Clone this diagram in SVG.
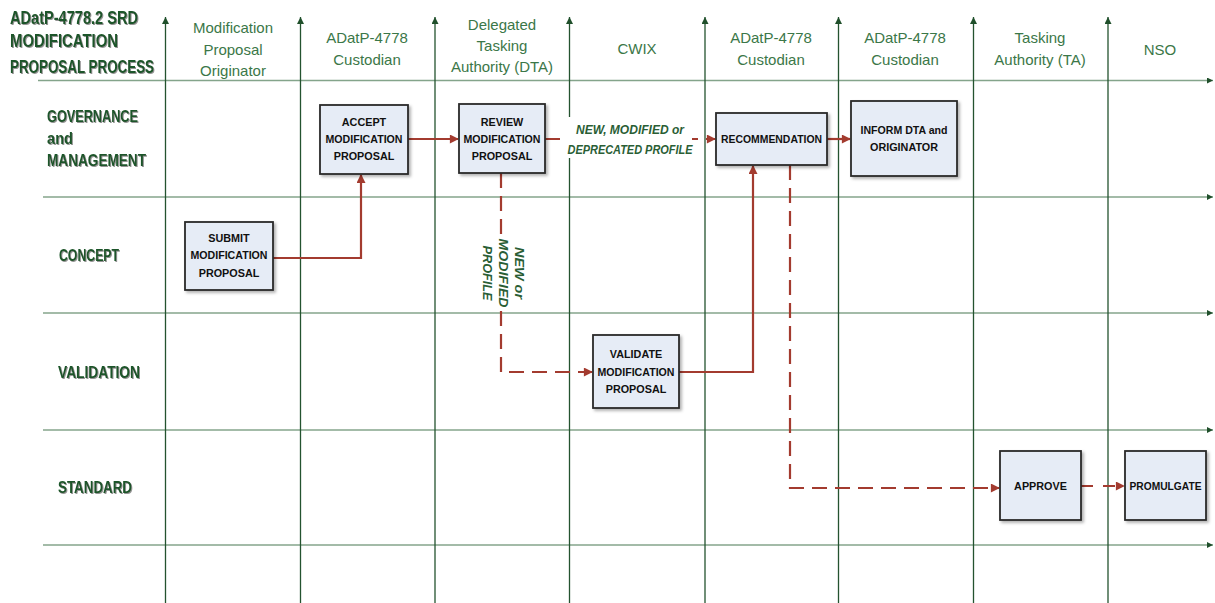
<svg xmlns="http://www.w3.org/2000/svg" width="1215" height="603" viewBox="0 0 1215 603">
<defs>
<style>
.vl{stroke:#24532f;stroke-width:1.3;fill:none}
.hl{stroke:#84a48b;stroke-width:1.6;fill:none}
.hdr{font-family:"Liberation Sans",Arial,sans-serif;font-size:15px;fill:#3b7748;text-anchor:middle}
.ttl{font-family:"Liberation Sans",Arial,sans-serif;font-weight:bold;font-size:17.5px;fill:#1d5529;filter:url(#sh)}
.row{font-family:"Liberation Sans",Arial,sans-serif;font-weight:bold;font-size:16.5px;fill:#1d5529;filter:url(#sh)}
.box rect{fill:#e6ecf6;stroke:#2a2a2a;stroke-width:1.8;filter:url(#bs)}
.box text{font-family:"Liberation Sans",Arial,sans-serif;font-weight:bold;font-size:10.8px;fill:#111;text-anchor:middle}
.c{stroke:#a33b2f;stroke-width:2.2;fill:none;marker-end:url(#ar)}
.d{stroke-dasharray:15 8}
.lbl{font-family:"Liberation Sans",Arial,sans-serif;font-weight:bold;font-style:italic;font-size:13px;fill:#2a5e35;text-anchor:middle}
</style>
<filter id="sh" x="-10%" y="-30%" width="120%" height="160%"><feDropShadow dx="1" dy="1" stdDeviation="0.6" flood-color="#666" flood-opacity="0.7"/></filter>
<filter id="bs" x="-10%" y="-10%" width="125%" height="125%"><feDropShadow dx="2" dy="2" stdDeviation="1.5" flood-color="#000" flood-opacity="0.3"/></filter>
<marker id="va" viewBox="0 0 10 10" refX="10" refY="5" markerWidth="12" markerHeight="7" markerUnits="userSpaceOnUse" orient="auto"><path d="M0,0 L10,5 L0,10 z" fill="#1f4f2a"/></marker>
<marker id="ha" viewBox="0 0 10 10" refX="10" refY="5" markerWidth="6" markerHeight="6" markerUnits="userSpaceOnUse" orient="auto"><path d="M0,0 L10,5 L0,10 z" fill="#1f4f2a"/></marker>
<marker id="ar" viewBox="0 0 10 10" refX="9" refY="5" markerWidth="11" markerHeight="9" markerUnits="userSpaceOnUse" orient="auto"><path d="M0,0 L10,5 L0,10 z" fill="#a33b2f"/></marker>
</defs>
<rect width="1215" height="603" fill="#fff"/>

<g id="grid">
<path class="hl" marker-end="url(#ha)" d="M38 80.5 H1213"/>
<path class="hl" marker-end="url(#ha)" d="M43 197 H1213"/>
<path class="hl" marker-end="url(#ha)" d="M43 313 H1213"/>
<path class="hl" marker-end="url(#ha)" d="M43 430 H1213"/>
<path class="hl" marker-end="url(#ha)" d="M43 545 H1213"/>
<path class="vl" marker-end="url(#va)" d="M165.5 603 V17"/>
<path class="vl" marker-end="url(#va)" d="M300.5 603 V17"/>
<path class="vl" marker-end="url(#va)" d="M435 603 V17"/>
<path class="vl" marker-end="url(#va)" d="M569.5 603 V17"/>
<path class="vl" marker-end="url(#va)" d="M705 603 V17"/>
<path class="vl" marker-end="url(#va)" d="M838.5 603 V17"/>
<path class="vl" marker-end="url(#va)" d="M973.5 603 V17"/>
<path class="vl" marker-end="url(#va)" d="M1108 603 V17"/>
</g>

<g id="title">
<text class="ttl" x="10" y="24" textLength="128" lengthAdjust="spacingAndGlyphs">ADatP-4778.2 SRD</text>
<text class="ttl" x="10" y="47" textLength="108" lengthAdjust="spacingAndGlyphs">MODIFICATION</text>
<text class="ttl" x="10" y="73" textLength="144" lengthAdjust="spacingAndGlyphs">PROPOSAL PROCESS</text>
</g>

<g id="headers">
<text class="hdr" x="233" y="33">Modification</text>
<text class="hdr" x="233" y="55">Proposal</text>
<text class="hdr" x="233" y="76">Originator</text>
<text class="hdr" x="367" y="43">ADatP-4778</text>
<text class="hdr" x="367" y="65">Custodian</text>
<text class="hdr" x="502" y="30">Delegated</text>
<text class="hdr" x="502" y="51">Tasking</text>
<text class="hdr" x="502" y="72">Authority (DTA)</text>
<text class="hdr" x="637" y="54">CWIX</text>
<text class="hdr" x="771" y="43">ADatP-4778</text>
<text class="hdr" x="771" y="65">Custodian</text>
<text class="hdr" x="905" y="43">ADatP-4778</text>
<text class="hdr" x="905" y="65">Custodian</text>
<text class="hdr" x="1040" y="43">Tasking</text>
<text class="hdr" x="1040" y="65">Authority (TA)</text>
<text class="hdr" x="1160" y="55">NSO</text>
</g>

<g id="rows">
<text class="row" x="47" y="122" textLength="91" lengthAdjust="spacingAndGlyphs">GOVERNANCE</text>
<text class="row" x="47" y="144" textLength="26" lengthAdjust="spacingAndGlyphs">and</text>
<text class="row" x="47" y="166" textLength="99" lengthAdjust="spacingAndGlyphs">MANAGEMENT</text>
<text class="row" x="59" y="261" textLength="60" lengthAdjust="spacingAndGlyphs">CONCEPT</text>
<text class="row" x="58" y="378" textLength="82" lengthAdjust="spacingAndGlyphs">VALIDATION</text>
<text class="row" x="58" y="493" textLength="74" lengthAdjust="spacingAndGlyphs">STANDARD</text>
</g>

<g id="connectors">
<path class="c" d="M273 258 H361 V175"/>
<path class="c" d="M408 139 H458"/>
<path class="c d" d="M545 139 H715"/>
<path class="c d" d="M501 173 V372 H592"/>
<path class="c" d="M679 372 H753 V166"/>
<path class="c" d="M827 139 H850"/>
<path class="c d" d="M790 165 V488 H999"/>
<path class="c" style="stroke-dasharray:12 10" d="M1081 486 H1124"/>
<rect x="562" y="117" width="130" height="41" fill="#fff"/>
<rect x="480" y="234" width="48" height="77" fill="#fff"/>
<text class="lbl" x="630" y="134" textLength="108" lengthAdjust="spacingAndGlyphs">NEW, MODIFIED or</text>
<text class="lbl" x="630" y="154" textLength="125" lengthAdjust="spacingAndGlyphs">DEPRECATED PROFILE</text>
<text class="lbl" transform="translate(515,273) rotate(90)" textLength="52" lengthAdjust="spacingAndGlyphs">NEW or</text>
<text class="lbl" transform="translate(499,273) rotate(90)" textLength="69" lengthAdjust="spacingAndGlyphs">MODIFIED</text>
<text class="lbl" transform="translate(483,273) rotate(90)" textLength="55" lengthAdjust="spacingAndGlyphs">PROFILE</text>
</g>

<g id="submit" class="box">
<rect x="185" y="222" width="88" height="68"/>
<text x="229" y="242">SUBMIT</text>
<text x="229" y="259" textLength="77" lengthAdjust="spacingAndGlyphs">MODIFICATION</text>
<text x="229" y="277">PROPOSAL</text>
</g>
<g id="accept" class="box">
<rect x="320" y="105" width="88" height="69"/>
<text x="364" y="126">ACCEPT</text>
<text x="364" y="143" textLength="77" lengthAdjust="spacingAndGlyphs">MODIFICATION</text>
<text x="364" y="160">PROPOSAL</text>
</g>
<g id="review" class="box">
<rect x="459" y="104" width="86" height="69"/>
<text x="502" y="126">REVIEW</text>
<text x="502" y="143" textLength="77" lengthAdjust="spacingAndGlyphs">MODIFICATION</text>
<text x="502" y="160">PROPOSAL</text>
</g>
<g id="recommendation" class="box">
<rect x="716" y="113" width="111" height="52"/>
<text x="771.5" y="143" textLength="101" lengthAdjust="spacingAndGlyphs">RECOMMENDATION</text>
</g>
<g id="inform" class="box">
<rect x="851" y="101" width="106" height="75"/>
<text x="904" y="134" textLength="87" lengthAdjust="spacingAndGlyphs">INFORM DTA and</text>
<text x="904" y="151">ORIGINATOR</text>
</g>
<g id="validate" class="box">
<rect x="593" y="335" width="86" height="73"/>
<text x="636" y="358">VALIDATE</text>
<text x="636" y="376" textLength="77" lengthAdjust="spacingAndGlyphs">MODIFICATION</text>
<text x="636" y="393">PROPOSAL</text>
</g>
<g id="approve" class="box">
<rect x="1000" y="451" width="81" height="69"/>
<text x="1040.5" y="490">APPROVE</text>
</g>
<g id="promulgate" class="box">
<rect x="1125" y="451" width="81" height="69"/>
<text x="1165.5" y="490" textLength="72" lengthAdjust="spacingAndGlyphs">PROMULGATE</text>
</g>
</svg>
